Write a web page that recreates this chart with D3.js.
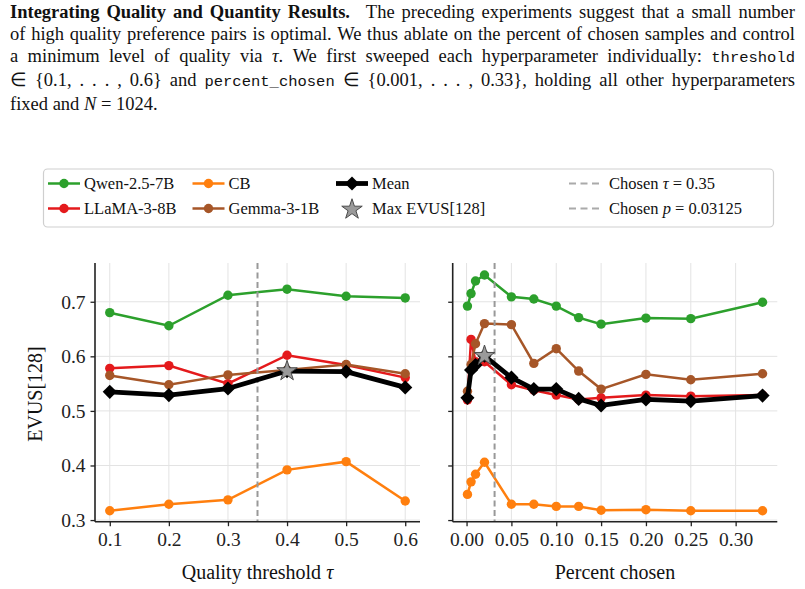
<!DOCTYPE html>
<html>
<head>
<meta charset="utf-8">
<script src="https://cdn.jsdelivr.net/npm/d3@7"></script>
<style>
  body { margin: 0; background: #fff; }
  #wrap { position: relative; width: 805px; height: 589px; overflow: hidden; }
  #para {
    position: absolute; left: 10px; top: 1px; width: 785px;
    font-family: "Liberation Serif", "Times New Roman", serif;
    font-size: 18.5px; line-height: 22px; color: #111;
  }
  #para div { text-align: justify; text-align-last: justify; white-space: nowrap; }
  #para div.last { text-align-last: left; }
  #para code { font-family: "Liberation Mono", "DejaVu Sans Mono", monospace; font-size: 15.5px; }
  #para i { font-style: italic; }
  svg { position: absolute; left: 0; top: 0; }
</style>
</head>
<body>
<div id="wrap">
  <div id="para">
    <div><b>Integrating Quality and Quantity Results.</b>&ensp; The preceding experiments suggest that a small number</div>
    <div>of high quality preference pairs is optimal. We thus ablate on the percent of chosen samples and control</div>
    <div>a minimum level of quality via <i>τ</i>. We first sweeped each hyperparameter individually: <code>threshold</code></div>
    <div>∈ {0.1, . . . , 0.6} and <code>percent_chosen</code> ∈ {0.001, . . . , 0.33}, holding all other hyperparameters</div>
    <div class="last">fixed and <i>N</i> = 1024.</div>
  </div>
  <div id="chart"></div>
</div>
<script>
// ---- data ----
const thresholds = [0.1, 0.2, 0.3, 0.4, 0.5, 0.6]
const qwenTau  = [0.680, 0.656, 0.712, 0.723, 0.710, 0.707]
const llamaTau = [0.578, 0.583, 0.550, 0.602, 0.584, 0.561]
const cbTau    = [0.317, 0.329, 0.337, 0.392, 0.407, 0.335]
const gemmaTau = [0.565, 0.548, 0.566, 0.575, 0.585, 0.568]
const meanTau  = [0.535, 0.529, 0.541, 0.573, 0.572, 0.543]

const percents = [0.001, 0.005, 0.01, 0.02, 0.05, 0.075, 0.1, 0.125, 0.15, 0.2, 0.25, 0.33]
const qwenPct  = [0.692, 0.715, 0.738, 0.749, 0.709, 0.705, 0.692, 0.671, 0.659, 0.670, 0.669, 0.699]
const llamaPct = [0.520, 0.631, 0.590, 0.590, 0.548, 0.538, 0.529, 0.521, 0.524, 0.529, 0.527, 0.529]
const cbPct    = [0.347, 0.370, 0.384, 0.406, 0.329, 0.329, 0.325, 0.325, 0.318, 0.319, 0.317, 0.317]
const gemmaPct = [0.536, 0.585, 0.623, 0.660, 0.658, 0.587, 0.614, 0.573, 0.540, 0.567, 0.557, 0.568]
const meanPct  = [0.524, 0.575, 0.584, 0.601, 0.561, 0.540, 0.540, 0.522, 0.510, 0.521, 0.518, 0.528]

const yTicks = [0.3, 0.4, 0.5, 0.6, 0.7]
const tauTicks = [0.1, 0.2, 0.3, 0.4, 0.5, 0.6]
const pctTicks = [0, 0.05, 0.10, 0.15, 0.20, 0.25, 0.30]
const chosenTau = 0.35
const chosenPct = 0.03125

const colors = {"Qwen-2.5-7B": "#2ca02c", "LLaMA-3-8B": "#e41a1c", "CB": "#ff7f0e", "Gemma-3-1B": "#a65628"}

const W = 805, H = 589
const serif = "'Liberation Serif', 'Times New Roman', serif"
const plotTop = 263, plotBottom = 521.7

const svg = d3.select("#chart").append("svg").attr("width", W).attr("height", H)

const y = d3.scaleLinear().domain([0.297, 0.771]).range([plotBottom, plotTop])

function drawPanel(opts) {
    const x = d3.scaleLinear().domain(opts.domain).range(opts.range)
    const g = svg.append("g")

    // grid
    g.append("g").selectAll("line").data(opts.ticks).join("line")
        .attr("x1", d => x(d)).attr("x2", d => x(d))
        .attr("y1", plotTop).attr("y2", plotBottom)
        .attr("stroke", "#e3e3e3").attr("stroke-width", 1)
    g.append("g").selectAll("line").data(yTicks).join("line")
        .attr("x1", opts.range[0]).attr("x2", opts.range[1])
        .attr("y1", d => y(d)).attr("y2", d => y(d))
        .attr("stroke", "#e3e3e3").attr("stroke-width", 1)

    const line = d3.line().x(d => x(d[0])).y(d => y(d[1]))

    opts.series.forEach(s => {
        const pts = opts.xs.map((v, i) => [v, s.values[i]])
        g.append("path").datum(pts)
            .attr("d", line)
            .attr("fill", "none")
            .attr("stroke", colors[s.name])
            .attr("stroke-width", 2.5)
        g.append("g").selectAll("circle").data(pts).join("circle")
            .attr("cx", d => x(d[0])).attr("cy", d => y(d[1]))
            .attr("r", 4.7)
            .attr("fill", colors[s.name])
    })

    // chosen value
    g.append("line")
        .attr("x1", x(opts.chosen)).attr("x2", x(opts.chosen))
        .attr("y1", plotTop).attr("y2", plotBottom)
        .attr("stroke", "#999").attr("stroke-width", 2)
        .attr("stroke-dasharray", "6,3.5")

    // mean
    const meanPts = opts.xs.map((v, i) => [v, opts.mean[i]])
    g.append("path").datum(meanPts)
        .attr("d", line)
        .attr("fill", "none")
        .attr("stroke", "#000")
        .attr("stroke-width", 4.8)
        .attr("stroke-linejoin", "round")
    g.append("g").selectAll("path").data(meanPts).join("path")
        .attr("d", d3.symbol(d3.symbolSquare, 100))
        .attr("transform", d => `translate(${x(d[0])},${y(d[1])}) rotate(45)`)
        .attr("fill", "#000")

    // best mean
    const best = meanPts[d3.maxIndex(meanPts, d => d[1])]
    g.append("path")
        .attr("d", d3.symbol(d3.symbolStar, 130))
        .attr("transform", `translate(${x(best[0])},${y(best[1])})`)
        .attr("fill", "#9a9a9a").attr("stroke", "#4a4a4a").attr("stroke-width", 1)

    // axes
    const xAxis = g.append("g")
        .attr("transform", `translate(0,${plotBottom})`)
        .call(d3.axisBottom(x).tickValues(opts.ticks).tickFormat(d3.format(opts.fmt)).tickSize(4.5).tickPadding(6))
    xAxis.select(".domain").attr("d", `M${opts.range[0]},0H${opts.range[1]}`)

    const yAxis = g.append("g")
        .attr("transform", `translate(${opts.range[0]},0)`)
        .call(d3.axisLeft(y).tickValues(yTicks).tickFormat(opts.yLabels ? d3.format(".1f") : "").tickSize(4.5).tickPadding(5))
    yAxis.select(".domain").attr("d", `M0,${plotBottom}V${plotTop}`)

    ;[xAxis, yAxis].forEach(a => {
        a.select(".domain").attr("stroke", "#222").attr("stroke-width", 1.6)
        a.selectAll(".tick line").attr("stroke", "#222").attr("stroke-width", 1.3)
        a.selectAll("text")
            .attr("fill", "#222")
            .style("font-family", serif)
            .style("font-size", "19.5px")
    })

    svg.append("text")
        .attr("x", (opts.range[0] + opts.range[1]) / 2)
        .attr("y", 579)
        .attr("text-anchor", "middle")
        .style("font-family", serif).style("font-size", "20px").attr("fill", "#111")
        .call(t => {
            t.append("tspan").text(opts.label)
            if (opts.labelMath) t.append("tspan").attr("font-style", "italic").text(" " + opts.labelMath)
        })
}

drawPanel({
    xs: thresholds, domain: [0.075, 0.625], range: [95, 420],
    ticks: tauTicks, fmt: ".1f", yLabels: true, chosen: chosenTau,
    series: [
        {name: "Qwen-2.5-7B", values: qwenTau},
        {name: "LLaMA-3-8B", values: llamaTau},
        {name: "CB", values: cbTau},
        {name: "Gemma-3-1B", values: gemmaTau}
    ],
    mean: meanTau, label: "Quality threshold", labelMath: "τ"
})

drawPanel({
    xs: percents, domain: [-0.01545, 0.34645], range: [452.7, 777.3],
    ticks: pctTicks, fmt: ".2f", yLabels: false, chosen: chosenPct,
    series: [
        {name: "Qwen-2.5-7B", values: qwenPct},
        {name: "LLaMA-3-8B", values: llamaPct},
        {name: "CB", values: cbPct},
        {name: "Gemma-3-1B", values: gemmaPct}
    ],
    mean: meanPct, label: "Percent chosen"
})

svg.append("text")
    .attr("transform", `translate(42,394) rotate(-90)`)
    .attr("text-anchor", "middle")
    .style("font-family", serif).style("font-size", "20px").attr("fill", "#111")
    .text("EVUS[128]")

// ---- legend ----
const legend = svg.append("g")
legend.append("rect")
    .attr("x", 43.5).attr("y", 169).attr("width", 730).attr("height", 58)
    .attr("rx", 4).attr("fill", "#fff").attr("stroke", "#cfcfcf").attr("stroke-width", 1.2)

const rows = [183.5, 208.5]
const legendItems = [
    {col: 48, row: 0, kind: "model", name: "Qwen-2.5-7B"},
    {col: 48, row: 1, kind: "model", name: "LLaMA-3-8B"},
    {col: 192.5, row: 0, kind: "model", name: "CB"},
    {col: 192.5, row: 1, kind: "model", name: "Gemma-3-1B"},
    {col: 336, row: 0, kind: "mean", name: "Mean"},
    {col: 336, row: 1, kind: "star", name: "Max EVUS[128]"},
    {col: 569, row: 0, kind: "dash", name: "Chosen ", math: "τ", rest: " = 0.35"},
    {col: 569, row: 1, kind: "dash", name: "Chosen ", math: "p", rest: " = 0.03125"}
]

legendItems.forEach(it => {
    const cy = rows[it.row]
    const x0 = it.col, x1 = it.col + 32
    let gap = 4
    if (it.kind === "model") {
        legend.append("line").attr("x1", x0).attr("x2", x1).attr("y1", cy).attr("y2", cy)
            .attr("stroke", colors[it.name]).attr("stroke-width", 2.5)
        legend.append("circle").attr("cx", (x0 + x1) / 2).attr("cy", cy).attr("r", 4.7).attr("fill", colors[it.name])
    } else if (it.kind === "mean") {
        legend.append("line").attr("x1", x0).attr("x2", x1).attr("y1", cy).attr("y2", cy)
            .attr("stroke", "#000").attr("stroke-width", 4.8)
        legend.append("path").attr("d", d3.symbol(d3.symbolSquare, 100))
            .attr("transform", `translate(${(x0 + x1) / 2},${cy}) rotate(45)`).attr("fill", "#000")
    } else if (it.kind === "star") {
        legend.append("path").attr("d", d3.symbol(d3.symbolStar, 130))
            .attr("transform", `translate(${(x0 + x1) / 2},${cy + 1})`)
            .attr("fill", "#9a9a9a").attr("stroke", "#4a4a4a").attr("stroke-width", 1)
    } else {
        legend.append("line").attr("x1", x0).attr("x2", x1).attr("y1", cy).attr("y2", cy)
            .attr("stroke", "#aaa").attr("stroke-width", 2).attr("stroke-dasharray", "7,4.5")
        gap = 8
    }
    const t = legend.append("text")
        .attr("x", x1 + gap).attr("y", cy + 5.5)
        .style("font-family", serif).style("font-size", "16.5px").attr("fill", "#111")
    t.append("tspan").text(it.name)
    if (it.math) {
        t.append("tspan").attr("font-style", "italic").text(it.math)
        t.append("tspan").text(it.rest)
    }
})
</script>
</body>
</html>
